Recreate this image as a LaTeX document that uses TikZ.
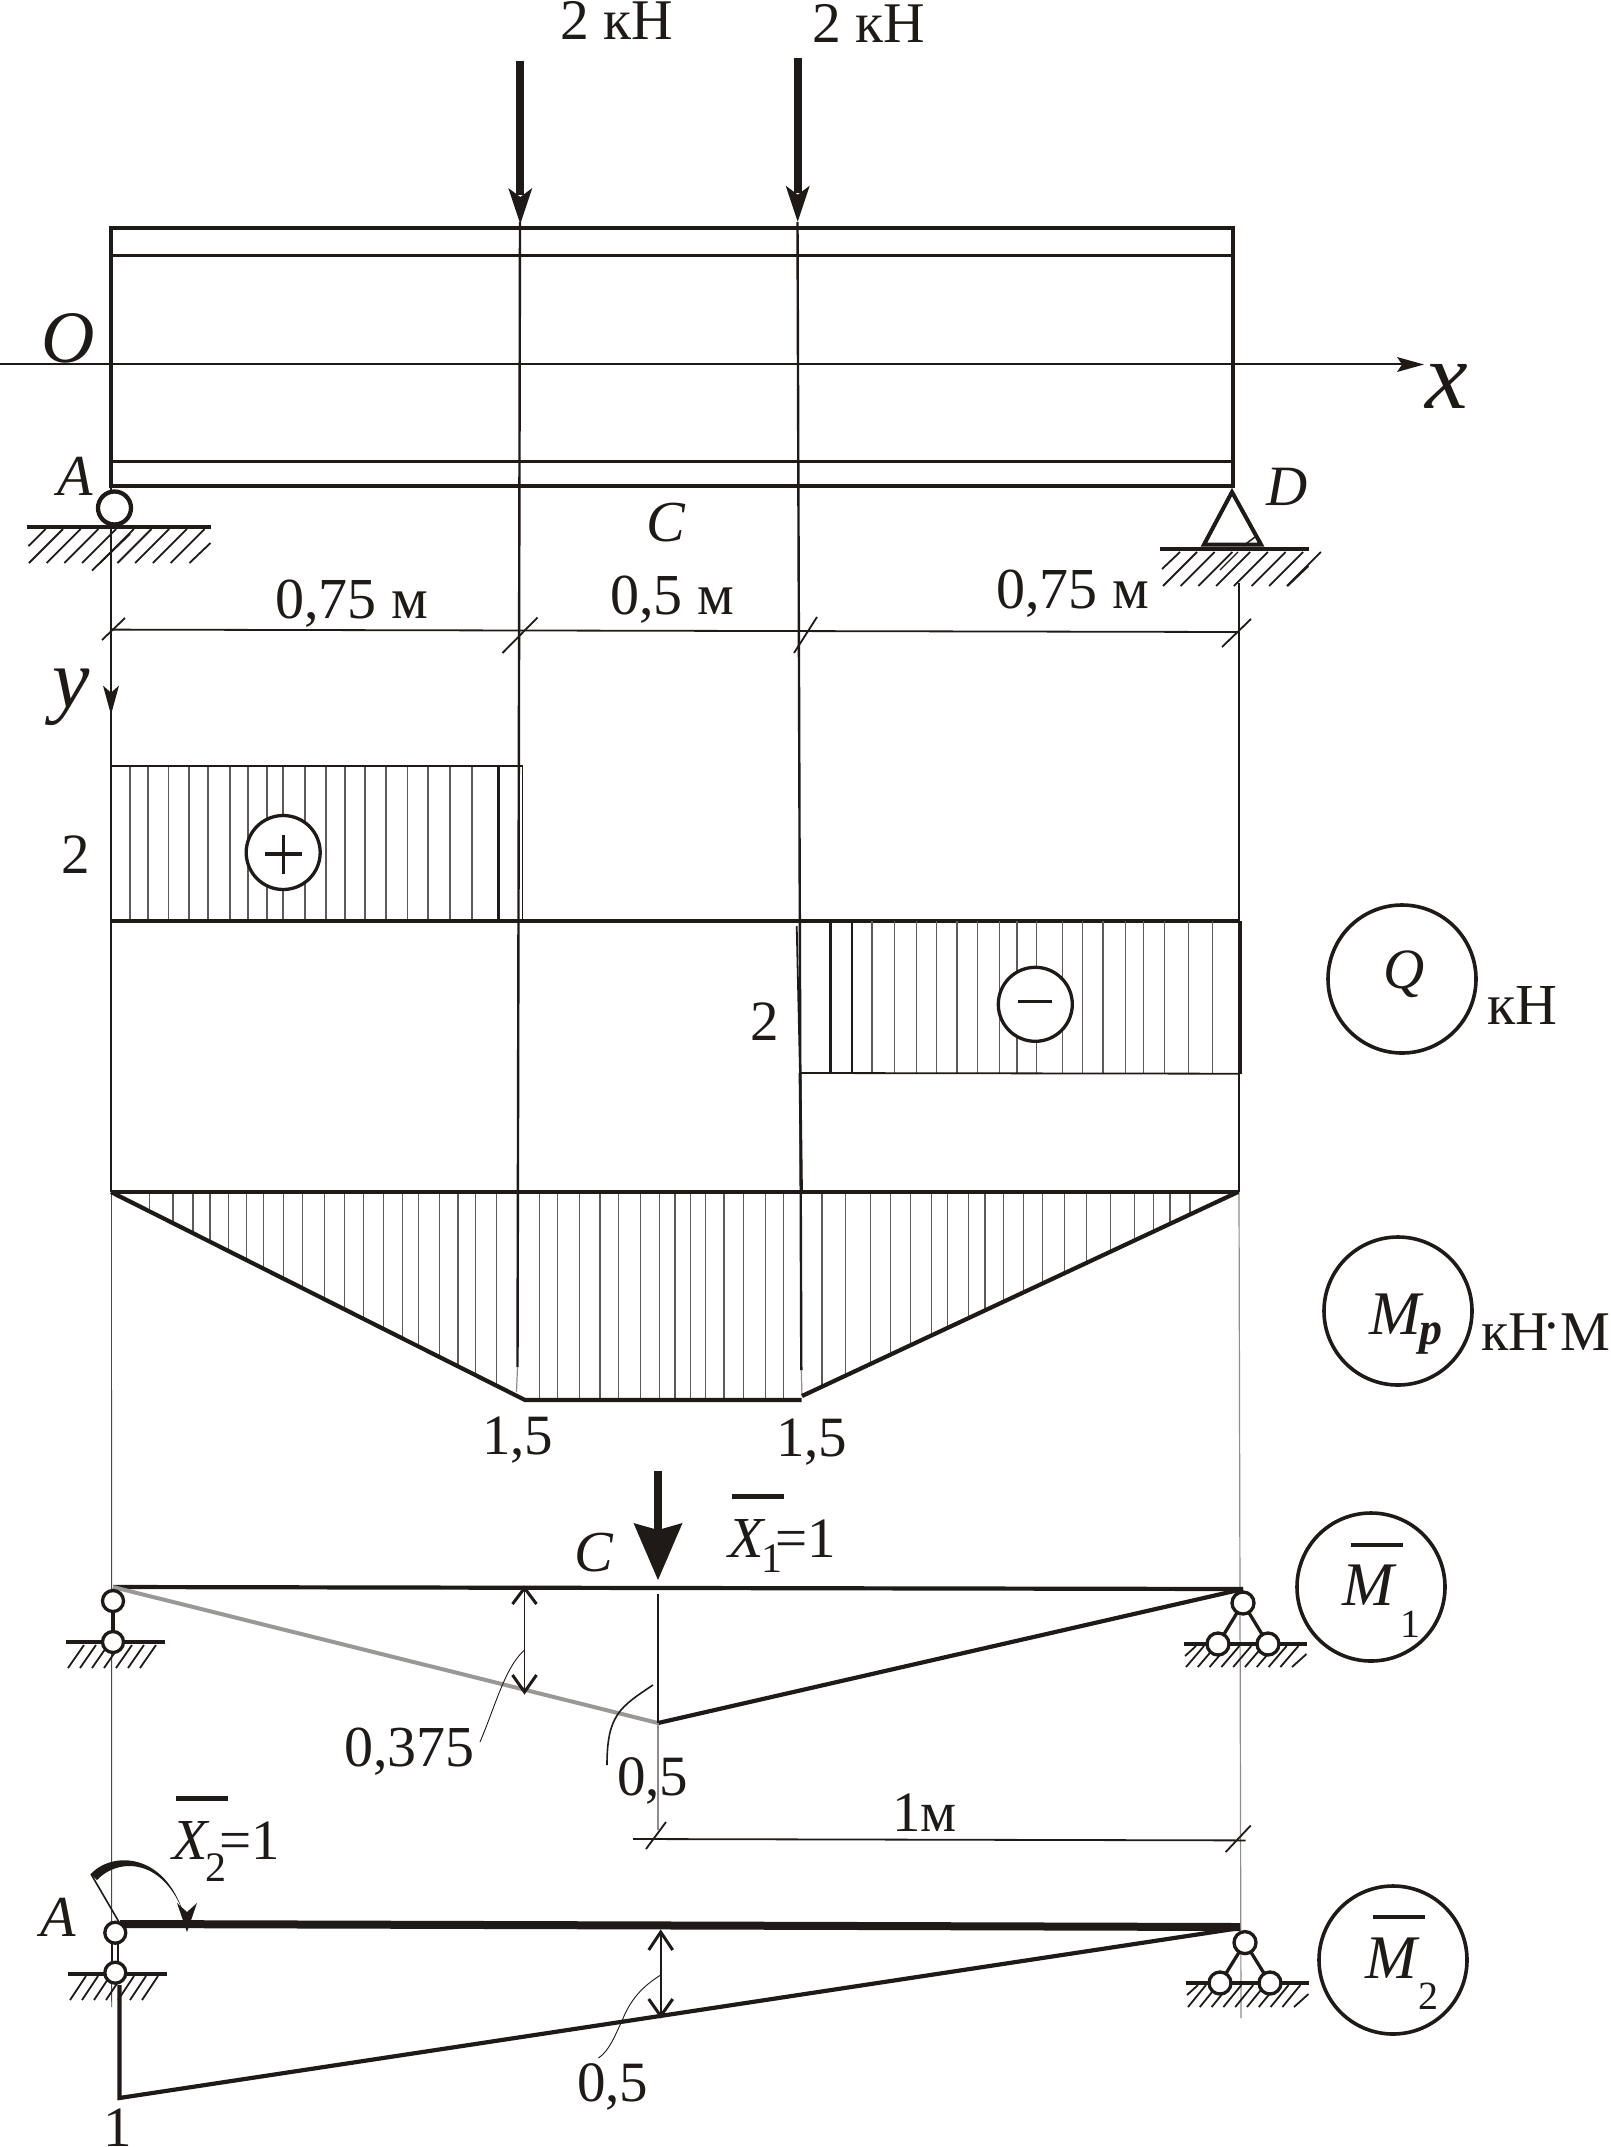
\documentclass[tikz,border=0pt]{standalone}
\usepackage{fontspec}
\setmainfont{Liberation Serif}
\definecolor{ink}{HTML}{1F1A17}
\tikzset{
  thickln/.style={line width=4.2pt,color=ink},
  medln/.style={line width=2.4pt,color=ink},
  thinln/.style={line width=1.8pt,color=ink},
  hatchln/.style={line width=1.2pt,color=ink!72},
  hintln/.style={line width=0.9pt,color=ink},
  grline/.style={line width=1.2pt,color=ink!50},
  hinge/.style={line width=3.3pt,color=ink,fill=white},
  signc/.style={circle,draw=ink,line width=3.3pt,fill=white,minimum size=74pt,inner sep=0pt},
  titlec/.style={circle,draw=ink,line width=3.6pt,minimum size=148pt,inner sep=0pt},
  txt/.style={anchor=base west,inner sep=0pt,text=ink}
}
\newcommand{\lbl}[5]{\node[txt] (#1) at (#2,#3) {\fontsize{#4}{#4}\selectfont #5};}
\newcommand{\fhead}[5]{\fill[ink] (#1,#2) -- ({#1-#3},{#2-#4}) -- (#1,{#2-#5}) -- ({#1+#3},{#2-#4}) -- cycle;}
\newcommand{\hatchrow}[7]{\foreach \i in {0,...,#6}{\draw[line width=#7pt,color=ink] ({#1+\i*#5},#3) -- ({#1+\i*#5+#4},#2);}}
\begin{document}
\begin{tikzpicture}[x=1pt,y=-1pt]
\useasboundingbox (0,0) rectangle (1611,2147);
\fill[white] (0,0) rectangle (1611,2147);

% force lines and projection lines
\draw[medln] (520,222) -- (517.5,1367);
\draw[grline] (517.5,1367) -- (516.5,1392);
\draw[medln] (797.5,222) -- (801.3,1370);
\draw[grline] (801.3,1370) -- (802,1396);

% beam
\draw[thickln] (111,228.3) rectangle (1233,486);
\draw[medln,line width=2.6pt] (111,255.7) -- (1233,255.7);
\draw[medln,line width=2.6pt] (111,461.4) -- (1233,461.4);
% x axis
\draw[medln] (0,364) -- (1405,364);
\fill[ink] (1424,364.5) -- (1397,357) -- (1402,364.5) -- (1397,372) -- cycle;

% forces
\draw[ink,line width=8pt] (520.3,60.7) -- (520.3,195);
\fhead{520.3}{224}{12}{36}{27}
\draw[ink,line width=8pt] (797.7,58) -- (797.7,193);
\fhead{797.7}{221.7}{12}{36}{27}
\lbl{fa}{560}{39}{57.5}{2 кН}
\lbl{fb}{812}{42}{57.5}{2 кН}

% labels of beam
\lbl{lo}{41}{362}{74}{\itshape O}
\lbl{lx}{1425}{408}{96}{\itshape x}
\lbl{la}{57}{495}{58}{\itshape A}
\lbl{ld}{1266}{505}{57}{\itshape D}
\lbl{lc}{646}{541}{58}{\itshape C}

% left vertical
\draw[medln,line width=2.7pt] (111,486) -- (111,1192);
\draw[line width=0.9pt,color=ink!80] (111.5,1192) -- (111.7,2007);
\fhead{111}{714.6}{8}{29}{22}
% right vertical
\draw[medln,line width=2pt] (1239,583) -- (1239,1192);
\draw[grline] (1239,1192) -- (1241,2018);

% support A
\draw[thickln] (27,527) -- (211,527);
\hatchrow{29}{529}{563}{34}{17.7}{8}{1.8}
\draw[line width=1.8pt,color=ink] (28.5,546) -- (45.7,529);
\draw[line width=1.8pt,color=ink] (92,570.5) -- (130,534);
\draw[line width=1.8pt,color=ink] (189.5,563) -- (210.5,543);
\draw[hinge,line width=4.3pt] (114.5,508) circle (16.5pt);

% support D
\draw[thickln] (1160,549) -- (1309,549);
\draw[ink,line width=4pt,fill=white,line join=miter] (1232,492) -- (1204,544.5) -- (1261,544.5) -- cycle;
\hatchrow{1163}{552}{586}{34}{17.7}{7}{1.8}
\draw[line width=1.8pt,color=ink] (1162,569) -- (1180,552);
\draw[line width=1.8pt,color=ink] (1287.5,586) -- (1308.5,566);
\draw[line width=1.3pt,color=ink] (1220,570) -- (1238,552);
\draw[line width=1.5pt,color=ink] (1243,546) -- (1255,537);

% dimensions
\lbl{da}{275}{618}{58}{0,75 м}
\lbl{db}{610}{614}{58}{0,5 м}
\lbl{dc}{996}{608}{58}{0,75 м}
\draw[thinln] (111,629.6) -- (1239,632);
\draw[thinln] (102,640) -- (125,618);
\draw[thinln] (502.5,653) -- (537.5,617.5);
\draw[thinln] (794,653) -- (817,617);
\draw[thinln] (1222,647) -- (1251,619);
\lbl{ly}{52}{707}{84}{\itshape y}

% Q diagram
\foreach \x in {130,148,168.6,189,208,230,248,267,283,305,326,345,365,386,407.5,428,450,472}
  \draw[hatchln] (\x,766) -- (\x,921);
\draw[thinln] (111,766) -- (522.5,766) -- (522.5,921);
\draw[medln] (498.6,766) -- (498.6,921);
\draw[thickln] (111,921) -- (1239,921);
\foreach \x in {872,894.3,916.3,936.7,957,977.7,999.3,1017,1036.5,1062.7,1082.7,1103,1125.3,1143.7,1164.3,1188.3,1212.3}
  \draw[hatchln] (\x,921) -- (\x,1073);
\draw[medln] (830.3,921) -- (830.3,1073.5);
\draw[medln] (852,921) -- (852,1073.5);
\draw[thinln] (800,1073) -- (1240,1073.7);
\draw[line width=3.6pt,color=ink] (1240,921) -- (1240,1074);
\draw[medln,line width=2.8pt] (800,1073) -- (801.5,1192);
\draw[thinln] (796.7,926) -- (800,1073);
\node[signc] (plus) at (283.2,852.5) {};
\draw[ink,line width=3.3pt] (265,854) -- (302,854);
\draw[ink,line width=3.3pt] (283.2,835) -- (283.2,874);
\node[signc] (minus) at (1035.3,1004.3) {};
\draw[ink,line width=3.3pt] (1018,1001.7) -- (1052,1001.7);
\lbl{ql}{61}{873}{57}{2}
\lbl{qr}{750}{1040.7}{57}{2}
\node[titlec] (qc) at (1402,979) {};
\lbl{qt}{1383}{988}{57}{\itshape Q}
\lbl{qu}{1487}{1024}{58}{кН}

% M_p diagram
\foreach \x in {149.3,173,193,210,228.3,246.7,263.3,283.7,302.3,324.3,344.7,363.3,383.7,402.3,418.7,439.3,458,475.7,496.3}
  \draw[hatchln] (\x,1192) -- (\x,{1192+(\x-111)*0.5036});
\foreach \x in {539.3,557.7,579.3,600,618.3,640.3,659.3,675,690.7,705.3,724,743.7,765.7,783.3}
  \draw[hatchln] (\x,1192) -- (\x,1400);
\foreach \x in {822,845.3,870.3,890.3,910.7,931.3,947.7,968.3,985,1003.3,1023.3,1042.3,1064.3,1086.3,1110.7,1134.7,1153.3,1170,1190}
  \draw[hatchln] (\x,1192) -- (\x,{1192+(1238-\x)*0.468});
\draw[thickln] (111,1191.7) -- (1239,1191.7);
\draw[thickln,line join=miter] (111,1192) -- (525,1400) -- (801.7,1400);
\draw[thickln] (802,1396) -- (1238,1192);
\lbl{ma}{482}{1454}{57}{1,5}
\lbl{mb}{776}{1456}{57}{1,5}
\node[titlec] (mc) at (1398,1311) {};
\lbl{mt}{1369}{1334}{62}{\itshape M}
\lbl{mp}{1419}{1344}{46}{\bfseries\itshape p}
\lbl{mu}{1481}{1350}{56}{кН}
\lbl{mdot}{1542}{1344}{56}{·}
\lbl{mm}{1560}{1350}{56}{М}

% M1 diagram
\draw[thickln] (113,1587) -- (1243,1589);
\draw[line width=4pt,color=ink!45] (113,1587) -- (658,1723);
\draw[thickln] (658,1723) -- (1243,1589);
\draw[line width=1.6pt,color=ink] (658,1594) -- (658,1723);
\draw[grline] (658,1723) -- (658,1830);
\draw[ink,line width=8pt] (658,1471) -- (658,1530);
\fhead{658}{1580}{24.5}{57}{50}
\lbl{cb}{574}{1571}{58}{\itshape C}
\lbl{x1}{728}{1557}{58}{\itshape X}
\lbl{x1s}{761}{1572}{42}{1}
\lbl{x1e}{775}{1557}{57}{=1}
\draw[ink,line width=5pt] (732,1496) -- (784,1496);
% left support
\draw[ink,line width=3.6pt] (66,1642) -- (165,1642);
\hatchrow{68}{1645}{1668}{16}{12}{6}{1.8}
\draw[ink,line width=3.3pt] (113,1601) -- (113,1642);
\draw[hinge] (113,1601) circle (10.5pt);
\draw[hinge] (113,1642) circle (10.5pt);
% right support
\draw[ink,line width=3.3pt] (1218,1644) -- (1243,1603) -- (1268,1644);
\draw[ink,line width=3.3pt] (1184,1644) -- (1307,1644);
\hatchrow{1186}{1646}{1667}{18}{11.8}{8}{1.8}
\draw[line width=1.8pt,color=ink] (1185,1656) -- (1196,1646);
\draw[line width=1.8pt,color=ink] (1292,1667) -- (1306.5,1654);
\draw[hinge] (1243,1603) circle (11pt);
\draw[hinge] (1218,1644) circle (11pt);
\draw[hinge] (1268,1644) circle (11pt);
% dim arrow
\draw[thinln] (524.5,1589) -- (524.5,1693);
\draw[ink,line width=3pt] (512.5,1604) -- (524.5,1588) -- (536.5,1604);
\draw[ink,line width=3pt] (512.5,1675) -- (524.5,1692) -- (536.5,1675);
\draw[hintln] (524.5,1650) .. controls (505,1667) and (495,1707) .. (480,1742);
\draw[medln,line width=1.6pt] (653,1685) .. controls (620,1707) and (607,1715) .. (607,1765);
\lbl{v1}{344}{1766}{58}{0,375}
\lbl{v2}{617}{1795}{57}{0,5}
\lbl{v3}{892}{1831}{57}{1м}
\draw[thinln] (633,1839) -- (1245.7,1840.4);
\draw[thinln] (646,1849) -- (666,1822);
\draw[thinln] (1225.7,1852) -- (1250.7,1825.5);
\node[titlec] (m1c) at (1371,1587) {};
\lbl{m1t}{1342}{1605}{62}{\itshape M}
\draw[ink,line width=4.2pt] (1351,1545) -- (1403,1545);
\lbl{m1s}{1400}{1637}{40}{1}

% M2 diagram
\draw[ink,line width=8pt] (120,1924) -- (1240,1927);
\draw[ink,line width=4.2pt,line join=miter] (119.4,1985) -- (119.4,2098) -- (1240,1928);
\draw[ink,line width=1.6pt] (119,1922) -- (91,1874);
\fill[ink] (90.8,1874) .. controls (112,1851) and (165,1852) .. (184,1915) .. controls (165,1860) and (120,1856) .. (97,1880) -- cycle;
\fhead{187}{1932}{10}{29}{20}
\draw[thinln] (660.7,1932) -- (660.7,2016);
\draw[ink,line width=3pt] (648.7,1950) -- (660.7,1932) -- (672.7,1950);
\draw[ink,line width=3pt] (648.7,1999) -- (660.7,2016) -- (672.7,1999);
\draw[hintln] (660.7,1975) .. controls (648,1983) and (632,1995) .. (622.4,2020) .. controls (615,2035) and (610,2050) .. (598.5,2058);
\lbl{w1}{577}{2101.7}{57}{0,5}
\lbl{w2}{103}{2146}{57}{1}
\lbl{w3}{40}{1936}{58}{\itshape A}
\lbl{x2}{172}{1859}{58}{\itshape X}
\lbl{x2s}{205}{1881}{42}{2}
\lbl{x2e}{219}{1859}{57}{=1}
\draw[ink,line width=5pt] (176,1798) -- (228,1798);
% left support
\draw[ink,line width=3.6pt] (68,1973.7) -- (167,1973.7);
\hatchrow{70}{1976}{2000}{16}{12}{6}{1.8}
\draw[ink,line width=1.8pt] (112.3,1933) -- (112.3,1973);
\draw[ink,line width=1.8pt] (118.3,1933) -- (118.3,1973);
\draw[hinge] (115.3,1932.7) circle (10.5pt);
\draw[hinge] (115.3,1972.7) circle (10.5pt);
% right support
\draw[ink,line width=3.3pt] (1220,1983) -- (1245,1942.6) -- (1270,1983);
\draw[ink,line width=3.3pt] (1186,1983) -- (1309,1983);
\hatchrow{1188}{1985}{2007}{18}{11.8}{8}{1.8}
\draw[line width=1.8pt,color=ink] (1187,1995) -- (1198,1985);
\draw[line width=1.8pt,color=ink] (1294,2007) -- (1308.5,1994);
\draw[hinge] (1245,1942.6) circle (11pt);
\draw[hinge] (1220,1983) circle (11pt);
\draw[hinge] (1270,1983) circle (11pt);
\node[titlec] (m2c) at (1393,1960) {};
\lbl{m2t}{1365}{1978}{62}{\itshape M}
\draw[ink,line width=4.2pt] (1373,1917) -- (1425,1917);
\lbl{m2s}{1418}{2009}{40}{2}
\end{tikzpicture}
\end{document}
